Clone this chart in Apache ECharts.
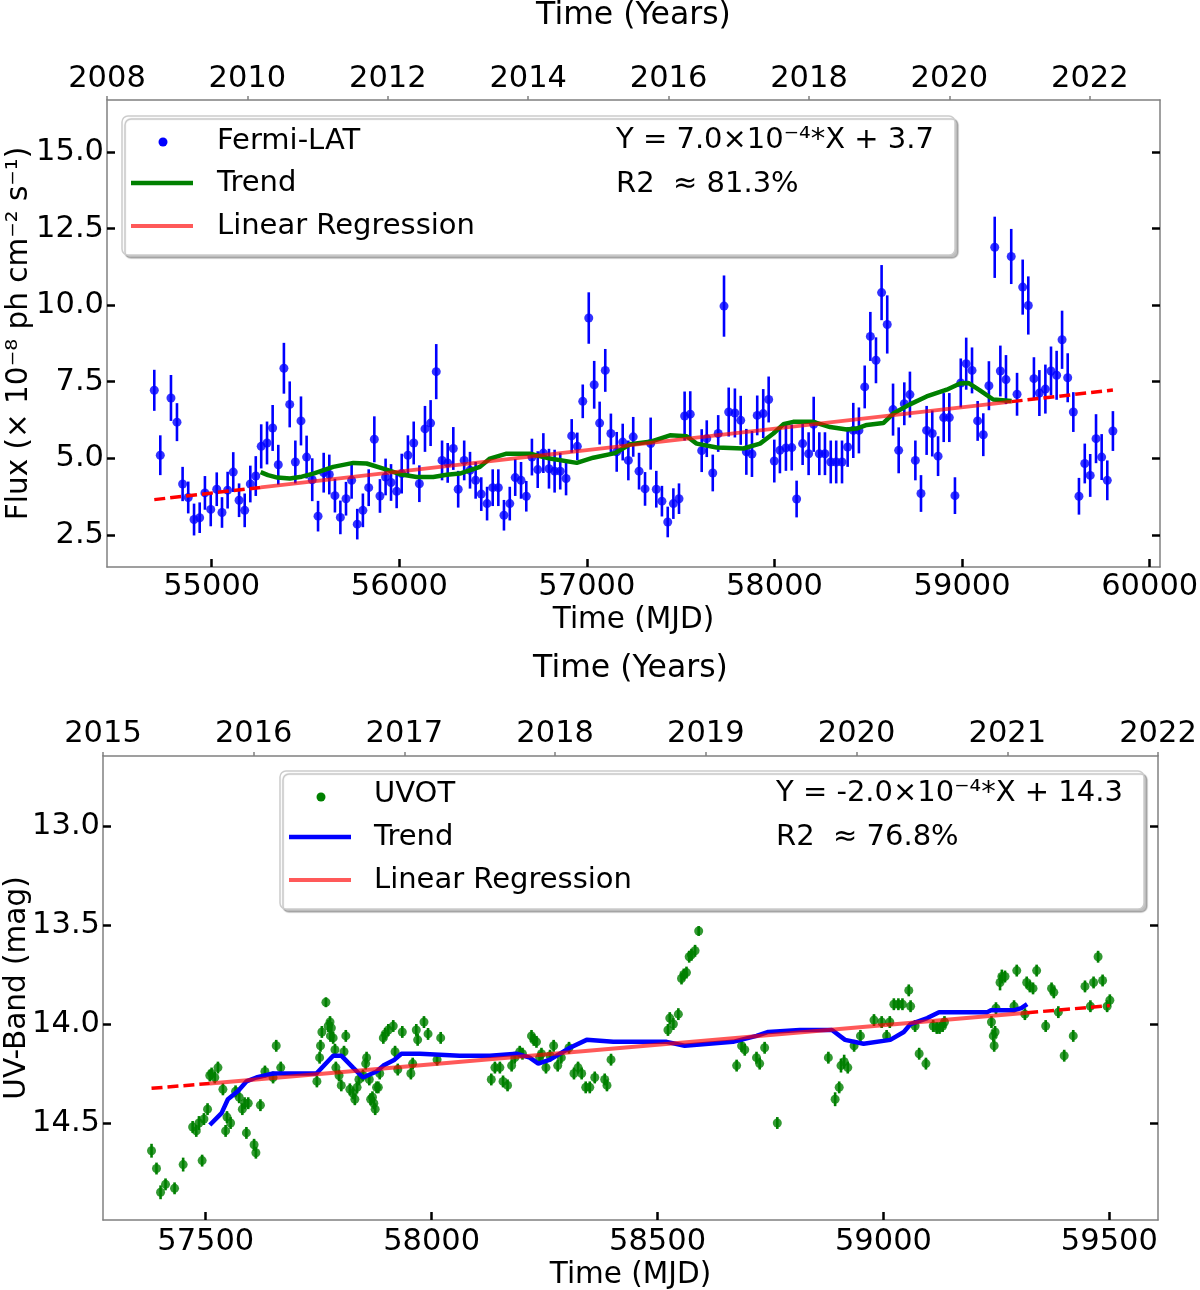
<!DOCTYPE html>
<html>
<head>
<meta charset="utf-8">
<title>Fermi-LAT and UVOT light curves</title>
<script src="https://cdn.jsdelivr.net/npm/echarts@6/dist/echarts.min.js"></script>
<style>
    html, body { margin: 0; padding: 0; background: #fff; }
    #chart { width: 1200px; height: 1290px; }
</style>
</head>
<body>
<div id="chart"></div>
<script>
// ---- data: [MJD, value, error] ----
var fermiPoints = [
    [54694,7.22,0.67],[54726,5.10,0.65],[54783,6.97,0.75],[54815,6.18,0.62],[54845,4.16,0.56],[54875,3.72,0.52],
    [54906,3.00,0.52],[54936,3.06,0.50],[54964,3.87,0.55],[54995,3.33,0.55],[55027,3.99,0.55],[55055,3.23,0.50],
    [55085,3.96,0.60],[55115,4.55,0.65],[55146,3.63,0.55],[55176,3.30,0.55],[55206,4.16,0.60],[55235,4.42,0.65],
    [55264,5.39,0.72],[55295,5.50,0.70],[55325,5.99,0.75],[55355,4.79,0.65],[55385,7.94,0.83],[55416,6.76,0.75],
    [55446,4.88,0.70],[55476,6.22,0.80],[55506,5.04,0.70],[55536,4.30,0.70],[55567,3.11,0.50],[55597,4.53,0.65],
    [55627,4.47,0.65],[55657,3.78,0.55],[55686,3.07,0.55],[55716,3.68,0.55],[55746,4.28,0.60],[55776,2.85,0.50],
    [55806,3.30,0.55],[55837,4.04,0.60],[55867,5.62,0.75],[55897,3.77,0.55],[55927,4.39,0.60],[55956,4.21,0.60],
    [55986,3.92,0.55],[56013,4.50,0.65],[56046,5.10,0.65],[56077,5.50,0.70],[56107,4.17,0.60],[56137,5.96,0.75],
    [56167,6.15,0.75],[56197,7.83,0.90],[56228,4.93,0.65],[56258,4.85,0.65],[56288,5.32,0.70],[56314,3.99,0.60],
    [56346,4.93,0.65],[56377,4.61,0.60],[56407,4.28,0.60],[56437,3.83,0.55],[56468,3.52,0.55],[56498,4.04,0.60],
    [56528,4.04,0.60],[56558,3.14,0.50],[56589,3.52,0.55],[56618,4.37,0.60],[56649,4.28,0.60],[56677,3.76,0.50],
    [56707,5.04,0.60],[56738,4.63,0.60],[56768,5.17,0.65],[56798,4.66,0.65],[56828,4.58,0.70],[56858,4.58,0.60],
    [56889,4.34,0.55],[56919,5.73,0.55],[56949,5.39,0.45],[56978,6.86,0.55],[57010,9.58,0.84],[57039,7.40,0.78],
    [57068,6.15,0.70],[57098,7.87,0.70],[57128,5.81,0.65],[57159,5.21,0.65],[57191,5.53,0.60],[57221,4.93,0.65],
    [57247,5.70,0.65],[57278,4.58,0.60],[57310,4.00,0.55],[57340,5.48,0.85],[57370,3.99,0.60],[57400,3.60,0.50],
    [57431,2.92,0.50],[57461,3.52,0.50],[57491,3.68,0.50],[57521,6.38,0.80],[57551,6.44,0.75],[57612,5.25,0.70],
    [57639,5.64,0.60],[57671,4.52,0.60],[57700,5.81,0.60],[57731,9.97,1.00],[57756,6.51,0.80],[57789,6.48,0.80],
    [57820,6.24,0.80],[57850,5.21,0.75],[57880,5.14,0.75],[57908,6.40,0.65],[57940,6.46,0.80],[57969,6.92,0.75],
    [57999,4.91,0.70],[58029,5.26,0.75],[58061,5.34,0.75],[58092,5.35,0.75],[58118,3.67,0.60],[58150,5.48,0.70],
    [58182,5.15,0.70],[58209,6.11,0.90],[58239,5.15,0.70],[58269,5.15,0.70],[58300,4.88,0.70],[58329,4.88,0.70],
    [58360,4.88,0.70],[58390,5.37,0.65],[58420,5.91,0.90],[58450,5.91,0.75],[58481,7.33,0.70],[58511,8.98,0.80],
    [58541,8.20,0.75],[58571,10.41,0.90],[58601,9.37,0.95],[58632,6.59,0.85],[58662,5.26,0.75],[58692,6.78,0.70],
    [58722,7.08,0.75],[58751,4.93,0.65],[58781,3.85,0.60],[58811,5.91,0.80],[58841,5.81,0.75],[58872,5.07,0.65],
    [58902,6.33,0.80],[58932,6.33,0.80],[58962,3.78,0.60],[58993,7.46,0.80],[59022,8.09,0.85],[59053,7.87,0.75],
    [59083,6.22,0.65],[59113,5.77,0.70],[59143,7.37,0.80],[59174,11.89,1.00],[59204,7.85,0.83],[59234,7.57,0.80],
    [59262,11.59,0.90],[59293,7.09,0.70],[59323,10.59,0.90],[59353,9.99,0.95],[59383,7.60,0.70],[59412,7.13,0.75],
    [59444,7.26,0.80],[59474,7.85,0.80],[59504,7.71,0.80],[59533,8.87,0.95],[59563,7.63,0.80],[59593,6.51,0.65],
    [59623,3.76,0.60],[59654,4.83,0.65],[59683,4.44,0.70],[59714,5.64,0.80],[59744,5.04,0.75],[59774,4.28,0.65],
    [59804,5.89,0.65]
];
var fermiTrend = [
    [55261,4.55],[55300,4.45],[55350,4.37],[55417,4.34],[55480,4.40],[55542,4.50],[55648,4.72],[55755,4.85],
    [55826,4.83],[55915,4.66],[56004,4.48],[56093,4.39],[56181,4.39],[56253,4.46],[56323,4.50],[56430,4.72],
    [56483,4.99],[56572,5.15],[56697,5.15],[56803,4.99],[56946,4.85],[57034,5.02],[57150,5.17],[57230,5.46],
    [57345,5.55],[57443,5.75],[57532,5.72],[57585,5.48],[57692,5.35],[57834,5.32],[57923,5.48],[57994,5.81],
    [58047,6.11],[58100,6.19],[58207,6.19],[58296,6.02],[58385,5.94],[58438,5.97],[58492,6.09],[58580,6.15],
    [58633,6.46],[58722,6.76],[58811,7.02],[58918,7.24],[58989,7.44],[59033,7.46],[59095,7.22],[59166,6.92],
    [59264,6.87]
];
var fermiRegLeft = [[54694,3.65],[55261,4.05]];
var fermiRegMid = [[55261,4.05],[59264,6.85]];
var fermiRegRight = [[59264,6.85],[59804,7.23]];

var uvPoints = [
    [57380,14.64,0.035],[57391,14.73,0.03],[57400,14.85,0.035],[57411,14.81,0.03],[57431,14.83,0.03],[57450,14.71,0.035],
    [57471,14.52,0.03],[57479,14.54,0.03],[57485,14.50,0.035],[57492,14.69,0.03],[57496,14.48,0.03],[57504,14.43,0.03],
    [57509,14.26,0.03],[57513,14.25,0.03],[57520,14.27,0.03],[57527,14.22,0.03],[57538,14.33,0.03],[57544,14.54,0.03],
    [57547,14.47,0.03],[57555,14.50,0.03],[57566,14.34,0.03],[57574,14.37,0.03],[57581,14.43,0.03],[57586,14.40,0.03],
    [57590,14.55,0.03],[57594,14.40,0.03],[57607,14.61,0.03],[57611,14.65,0.03],[57621,14.41,0.03],[57631,14.24,0.03],
    [57649,14.27,0.03],[57656,14.11,0.03],[57666,14.22,0.03],[57746,14.29,0.03],[57752,14.17,0.03],[57754,14.11,0.03],
    [57757,14.04,0.03],[57766,13.89,0.025],[57771,14.01,0.03],[57775,13.99,0.03],[57776,14.06,0.03],[57778,14.02,0.03],
    [57782,14.07,0.03],[57786,14.13,0.03],[57788,14.22,0.03],[57795,14.26,0.03],[57800,14.31,0.03],[57806,14.14,0.03],
    [57810,14.06,0.03],[57819,14.33,0.03],[57826,14.35,0.03],[57830,14.38,0.03],[57835,14.32,0.03],[57839,14.28,0.03],
    [57848,14.26,0.03],[57854,14.20,0.03],[57856,14.17,0.03],[57862,14.28,0.03],[57865,14.38,0.03],[57869,14.37,0.03],
    [57872,14.40,0.03],[57875,14.43,0.03],[57878,14.32,0.03],[57882,14.32,0.03],[57885,14.25,0.03],[57893,14.07,0.03],
    [57897,14.05,0.03],[57904,14.03,0.03],[57915,14.01,0.03],[57919,14.14,0.03],[57925,14.23,0.03],[57935,14.04,0.03],
    [57954,14.25,0.03],[57958,14.20,0.03],[57966,14.03,0.03],[57969,14.08,0.03],[57983,13.99,0.03],[57992,14.05,0.03],
    [58012,14.18,0.03],[58020,14.07,0.03],[58132,14.28,0.03],[58140,14.22,0.03],[58151,14.22,0.03],[58158,14.29,0.03],
    [58168,14.31,0.03],[58177,14.21,0.03],[58184,14.17,0.03],[58195,14.14,0.03],[58201,14.15,0.03],[58221,14.06,0.03],
    [58226,14.08,0.03],[58232,14.09,0.03],[58239,14.17,0.03],[58243,14.15,0.03],[58253,14.22,0.03],[58262,14.16,0.03],
    [58270,14.11,0.03],[58279,14.21,0.03],[58287,14.17,0.03],[58304,14.12,0.03],[58315,14.25,0.03],[58324,14.22,0.03],
    [58332,14.25,0.03],[58341,14.32,0.03],[58350,14.32,0.03],[58361,14.27,0.03],[58383,14.28,0.03],[58388,14.31,0.03],
    [58397,14.18,0.03],[58523,14.03,0.03],[58527,13.97,0.03],[58535,14.00,0.03],[58546,13.95,0.03],[58553,13.77,0.03],
    [58558,13.75,0.03],[58564,13.74,0.03],[58570,13.66,0.03],[58575,13.65,0.03],[58583,13.63,0.03],[58591,13.53,0.025],
    [58675,14.21,0.03],[58686,14.11,0.03],[58693,14.13,0.03],[58719,14.17,0.03],[58726,14.20,0.03],[58737,14.12,0.03],
    [58765,14.50,0.03],[58878,14.17,0.03],[58893,14.38,0.035],[58902,14.32,0.03],[58906,14.21,0.035],[58913,14.19,0.035],
    [58921,14.22,0.03],[58935,14.11,0.03],[58949,14.06,0.03],[58979,13.98,0.03],[58996,13.99,0.03],[59007,14.06,0.03],
    [59014,13.99,0.03],[59023,13.90,0.03],[59033,13.90,0.03],[59042,13.90,0.03],[59056,13.83,0.03],[59060,13.91,0.03],
    [59070,14.01,0.03],[59079,14.15,0.03],[59094,14.20,0.03],[59110,14.01,0.03],[59118,14.02,0.03],[59124,14.02,0.03],
    [59131,14.01,0.03],[59135,13.99,0.03],[59239,13.99,0.03],[59243,14.06,0.03],[59245,14.11,0.03],[59247,14.04,0.03],
    [59249,13.92,0.03],[59258,13.79,0.04],[59262,13.76,0.035],[59269,13.76,0.03],[59289,13.91,0.03],[59295,13.73,0.03],
    [59313,13.95,0.03],[59317,13.79,0.03],[59324,13.81,0.03],[59331,13.82,0.03],[59339,13.73,0.03],[59359,14.01,0.03],
    [59372,13.82,0.03],[59377,13.84,0.03],[59387,13.94,0.03],[59400,14.16,0.03],[59420,14.06,0.03],[59446,13.81,0.03],
    [59458,13.91,0.03],[59465,13.79,0.03],[59475,13.66,0.03],[59485,13.78,0.03],[59495,13.91,0.03],[59501,13.88,0.03]
];
var uvTrend = [
    [57509,14.51],[57535,14.45],[57549,14.38],[57571,14.34],[57590,14.29],[57612,14.27],[57649,14.25],[57745,14.25],
    [57782,14.16],[57800,14.16],[57826,14.22],[57848,14.27],[57878,14.24],[57893,14.21],[57918,14.18],[57933,14.15],
    [57974,14.15],[58062,14.16],[58129,14.16],[58188,14.15],[58217,14.17],[58236,14.20],[58262,14.18],[58306,14.12],
    [58343,14.08],[58402,14.09],[58520,14.09],[58560,14.11],[58667,14.09],[58719,14.06],[58745,14.04],[58815,14.03],
    [58886,14.03],[58915,14.08],[58956,14.10],[59015,14.08],[59045,14.04],[59060,14.00],[59097,13.97],[59123,13.94],
    [59230,13.94],[59238,13.93],[59290,13.93],[59305,13.92],[59318,13.90]
];
var uvRegLeft = [[57380,14.325],[57509,14.30]];
var uvRegMid = [[57509,14.30],[59318,13.943]];
var uvRegRight = [[59318,13.943],[59501,13.907]];

// tick labels
var fermiMjdTicks = [55000, 56000, 57000, 58000, 59000, 60000];
var fermiYearTicks = [2008, 2010, 2012, 2014, 2016, 2018, 2020, 2022];
var fermiFluxTicks = [2.5, 5.0, 7.5, 10.0, 12.5, 15.0];
var uvMjdTicks = [57500, 58000, 58500, 59000, 59500];
var uvYearTicks = [2015, 2016, 2017, 2018, 2019, 2020, 2021, 2022];
var uvMagTicks = [13.0, 13.5, 14.0, 14.5];

var FONT = 'DejaVu Sans';
var SPINE = '#808080';
var FS = 29;        // legend text
var TICK_FS = 30.5; // tick labels

var chart = echarts.init(document.getElementById('chart'));

function txt(size, extra) {
    var s = { fontSize: size, color: '#000', fontFamily: FONT };
    for (var k in extra) s[k] = extra[k];
    return s;
}

function plain(v) { return String(v); }

function bottomAxis(grid, min, max, ticks, gap, margin) {
    return {
        gridIndex: grid, type: 'value', position: 'bottom', min: min, max: max,
        name: 'Time (MJD)', nameLocation: 'middle', nameGap: gap, nameMoveOverlap: false, nameTextStyle: txt(29.5),
        axisLine: { show: true, onZero: false, lineStyle: { color: SPINE, width: 1.5 } },
        axisTick: { show: true, inside: true, length: 8, customValues: ticks, lineStyle: { color: '#000', width: 2.5 } },
        axisLabel: txt(TICK_FS, { show: true, customValues: ticks, margin: margin, formatter: plain }),
        splitLine: { show: false }
    };
}

function topAxis(grid, min, max, ticks, gap, margin) {
    return {
        gridIndex: grid, type: 'value', position: 'top', min: min, max: max,
        name: 'Time (Years)', nameLocation: 'middle', nameGap: gap, nameMoveOverlap: false, nameTextStyle: txt(31.5),
        axisLine: { show: true, onZero: false, lineStyle: { color: SPINE, width: 1.5 } },
        axisTick: { show: true, inside: false, length: 4, customValues: ticks, lineStyle: { color: SPINE, width: 1.5 } },
        axisLabel: txt(TICK_FS, { show: true, customValues: ticks, margin: margin, formatter: plain }),
        splitLine: { show: false }
    };
}

function leftAxis(grid, min, max, ticks, name, gap, inverse) {
    return {
        gridIndex: grid, type: 'value', position: 'left', min: min, max: max, inverse: !!inverse,
        name: name, nameLocation: 'middle', nameGap: gap, nameMoveOverlap: false, nameTextStyle: txt(29.5),
        axisLine: { show: true, onZero: false, lineStyle: { color: SPINE, width: 1.5 } },
        axisTick: { show: true, inside: true, length: 8, customValues: ticks, lineStyle: { color: '#000', width: 2.5 } },
        axisLabel: txt(TICK_FS, { show: true, customValues: ticks, margin: 3, formatter: function (v) { return v.toFixed(1); } }),
        splitLine: { show: false }
    };
}

function rightAxis(grid, min, max, ticks, inverse) {
    return {
        gridIndex: grid, type: 'value', position: 'right', min: min, max: max, inverse: !!inverse,
        axisLine: { show: true, onZero: false, lineStyle: { color: SPINE, width: 1.5 } },
        axisTick: { show: true, inside: true, length: 8, customValues: ticks, lineStyle: { color: '#000', width: 2.5 } },
        axisLabel: { show: false },
        splitLine: { show: false }
    };
}

function errorBars(xi, yi, points, color, width) {
    return {
        type: 'custom', xAxisIndex: xi, yAxisIndex: yi, silent: true, z: 2,
        encode: { x: 0, y: 1 },
        data: points,
        renderItem: function (params, api) {
            var x = api.value(0), y = api.value(1), e = api.value(2);
            var a = api.coord([x, y - e]);
            var b = api.coord([x, y + e]);
            return {
                type: 'line',
                shape: { x1: a[0], y1: a[1], x2: b[0], y2: b[1] },
                style: { stroke: color, lineWidth: width }
            };
        }
    };
}

function markers(xi, yi, points, color, size) {
    return {
        type: 'scatter', xAxisIndex: xi, yAxisIndex: yi, silent: true, z: 3,
        symbol: 'circle', symbolSize: size,
        itemStyle: { color: color },
        data: points.map(function (p) { return [p[0], p[1]]; })
    };
}

function curve(xi, yi, data, color, width, dash, z) {
    return {
        type: 'line', xAxisIndex: xi, yAxisIndex: yi, silent: true, z: z,
        symbol: 'none', smooth: false,
        lineStyle: { color: color, width: width, type: dash || 'solid' },
        data: data
    };
}

function legendText(x, y, s) {
    return { type: 'text', z: 101, x: x, y: y,
             style: { text: s, fontSize: FS, fontFamily: FONT, fill: '#000', align: 'left', verticalAlign: 'middle' } };
}

var REG_SOLID = 'rgba(255, 0, 0, 0.65)';
var REG_DASH = '#ff0000';

var option = {
    animation: false,
    backgroundColor: '#ffffff',
    textStyle: { fontFamily: FONT },
    grid: [
        { left: 107, top: 100, width: 1053, height: 467, outerBoundsMode: 'none', containLabel: false },
        { left: 103, top: 756, width: 1055, height: 464, outerBoundsMode: 'none', containLabel: false }
    ],
    xAxis: [
        bottomAxis(0, 54442, 60055, fermiMjdTicks, 38, 5),
        topAxis(0, 2008, 2023, fermiYearTicks, 68, 5),
        bottomAxis(1, 57272.6, 59607.6, uvMjdTicks, 40, 7),
        topAxis(1, 2015, 2022, uvYearTicks, 71, 6)
    ],
    yAxis: [
        leftAxis(0, 1.45, 16.7, fermiFluxTicks, 'Flux (× 10⁻⁸ ph cm⁻² s⁻¹)', 73, false),
        rightAxis(0, 1.45, 16.7, fermiFluxTicks, false),
        leftAxis(1, 12.646, 14.99, uvMagTicks, 'UV-Band (mag)', 71, true),
        rightAxis(1, 12.646, 14.99, uvMagTicks, true)
    ],
    series: [
        errorBars(0, 0, fermiPoints, '#0000ff', 2.6),
        markers(0, 0, fermiPoints, '#0000ff', 9),
        curve(0, 0, fermiTrend, '#008000', 4.5, 'solid', 4),
        curve(0, 0, fermiRegLeft, REG_DASH, 3.5, [11, 5], 5),
        curve(0, 0, fermiRegMid, REG_SOLID, 4, 'solid', 5),
        curve(0, 0, fermiRegRight, REG_DASH, 3.5, [11, 5], 5),

        errorBars(2, 2, uvPoints, '#008000', 2.6),
        markers(2, 2, uvPoints, '#008000', 9),
        curve(2, 2, uvTrend, '#0000ff', 4.5, 'solid', 4),
        curve(2, 2, uvRegLeft, REG_DASH, 3.5, [11, 5], 5),
        curve(2, 2, uvRegMid, REG_SOLID, 4, 'solid', 5),
        curve(2, 2, uvRegRight, REG_DASH, 3.5, [11, 5], 5)
    ],
    graphic: [
        // top legend
        { type: 'rect', z: 100, shape: { x: 122, y: 116, width: 833, height: 139, r: 6 },
          style: { fill: '#ffffff', stroke: '#cccccc', lineWidth: 1.5, shadowColor: 'rgba(0,0,0,0.25)', shadowOffsetX: 3, shadowOffsetY: 3, shadowBlur: 1 } },
        { type: 'circle', z: 101, shape: { cx: 163, cy: 142, r: 4.5 }, style: { fill: '#0000ff' } },
        legendText(217, 141, 'Fermi-LAT'),
        { type: 'line', z: 101, shape: { x1: 131, y1: 183, x2: 193, y2: 183 }, style: { stroke: '#008000', lineWidth: 4.5 } },
        legendText(217, 183, 'Trend'),
        { type: 'line', z: 101, shape: { x1: 131, y1: 226, x2: 193, y2: 226 }, style: { stroke: REG_SOLID, lineWidth: 4 } },
        legendText(217, 226, 'Linear Regression'),
        legendText(616, 140, 'Y = 7.0×10⁻⁴*X + 3.7'),
        legendText(616, 184, 'R2  ≈ 81.3%'),

        // bottom legend
        { type: 'rect', z: 100, shape: { x: 280, y: 771, width: 864, height: 138, r: 6 },
          style: { fill: '#ffffff', stroke: '#cccccc', lineWidth: 1.5, shadowColor: 'rgba(0,0,0,0.25)', shadowOffsetX: 3, shadowOffsetY: 3, shadowBlur: 1 } },
        { type: 'circle', z: 101, shape: { cx: 321, cy: 797, r: 4.5 }, style: { fill: '#008000' } },
        legendText(374, 794, 'UVOT'),
        { type: 'line', z: 101, shape: { x1: 289, y1: 837, x2: 351, y2: 837 }, style: { stroke: '#0000ff', lineWidth: 4.5 } },
        legendText(374, 837, 'Trend'),
        { type: 'line', z: 101, shape: { x1: 289, y1: 880, x2: 351, y2: 880 }, style: { stroke: REG_SOLID, lineWidth: 4 } },
        legendText(374, 880, 'Linear Regression'),
        legendText(776, 793, 'Y = -2.0×10⁻⁴*X + 14.3'),
        legendText(776, 837, 'R2  ≈ 76.8%')
    ]
};

chart.setOption(option);

window.addEventListener('resize', function () {
    if (chart != null && chart != undefined) {
        chart.resize();
    }
});
</script>
</body>
</html>
